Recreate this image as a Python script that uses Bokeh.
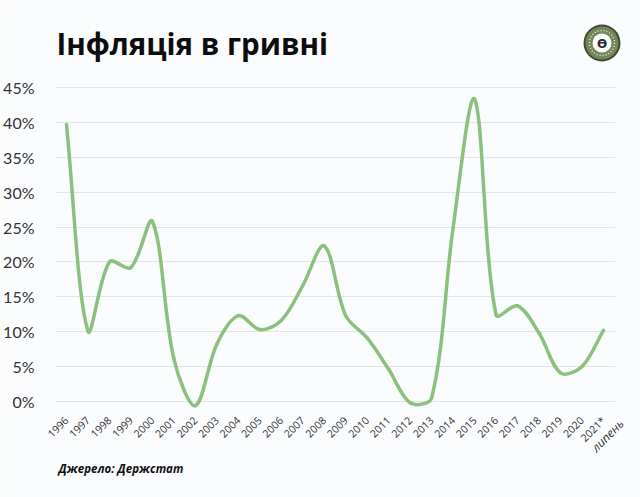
import numpy as np
from bokeh.plotting import figure
from bokeh.models import FixedTicker, Range1d
from bokeh.layouts import column
from bokeh.core.properties import value
from bokeh.embed import file_html
from bokeh.resources import INLINE

# ---- data ----
years = [1996, 1997, 1998, 1999, 2000, 2001, 2002, 2003, 2004, 2005, 2006, 2007, 2008,
         2009, 2010, 2011, 2012, 2013, 2014, 2015, 2016, 2017, 2018, 2019, 2020, 2021]
inflation = [39.7, 10.1, 20.0, 19.2, 25.8, 6.1, -0.6, 8.2, 12.3, 10.3, 11.6, 16.6, 22.3,
             12.3, 9.1, 4.6, -0.2, 0.5, 24.9, 43.3, 12.4, 13.7, 9.8, 4.1, 5.0, 10.2]
year_labels = [str(y) for y in years[:-1]] + ["2021*"]
y_ticks = [0, 5, 10, 15, 20, 25, 30, 35, 40, 45]
title_text = "Інфляція в гривні"
source_text = "Джерело: Держстат"
note_text = "липень"

BG = "#fbfcfe"
LINE = "#8cc07e"
W, H = 640, 497

FL, FT, FW, FH = 55, 80, 560, 330   # frame left/top/width/height in canvas px
X0, X1 = 1995.49, 2021.56
Y0, Y1 = -1.3, 46.0

p = figure(frame_width=FW, frame_height=FH, output_backend="svg", toolbar_location=None,
           x_range=Range1d(X0, X1), y_range=Range1d(Y0, Y1),
           min_border_left=FL, min_border_right=W - FL - FW, min_border_top=FT,
           min_border_bottom=H - FT - FH, frame_align=False,
           background_fill_color=BG, border_fill_color=BG, outline_line_color=None)

# smoothed line (spreadsheet-style smoothing, tangents scaled by on-screen segment lengths)
sx = FW / (X1 - X0)
sy = FH / (Y1 - Y0)
x = np.array(years, dtype=float)
y = np.array(inflation, dtype=float)
xp = np.concatenate([[x[0]], x, [x[-1]]])
yp = np.concatenate([[y[0]], y, [y[-1]]])
seg = np.hypot(np.diff(xp) * sx, np.diff(yp) * sy)
d01, d12, d23 = seg[:-2], seg[1:-1], seg[2:]
f1 = d12 / (d01 + d12) / 3
f2 = d12 / (d12 + d23) / 3
cx0 = xp[1:-2] + (xp[2:-1] - xp[:-3]) * f1
cy0 = yp[1:-2] + (yp[2:-1] - yp[:-3]) * f1
cx1 = xp[2:-1] - (xp[3:] - xp[1:-2]) * f2
cy1 = yp[2:-1] - (yp[3:] - yp[1:-2]) * f2
p.bezier(x0=x[:-1], y0=y[:-1], x1=x[1:], y1=y[1:], cx0=cx0, cy0=cy0, cx1=cx1, cy1=cy1,
         line_color=LINE, line_width=3.5, line_cap="round")

# axes
p.yaxis.ticker = FixedTicker(ticks=y_ticks)
p.yaxis.major_label_overrides = {t: f"{t}%" for t in y_ticks}
p.yaxis.major_label_text_font = "Lato"
p.yaxis.major_label_text_font_size = "16px"
p.yaxis.major_label_text_color = "#333333"
p.yaxis.major_label_standoff = 15
p.xaxis.ticker = FixedTicker(ticks=years)
p.xaxis.major_label_overrides = {yr: lab for yr, lab in zip(years, year_labels)}
p.xaxis.major_label_orientation = np.pi / 4
p.xaxis.major_label_text_font = "Open Sans"
p.xaxis.major_label_text_font_size = "10.5px"
p.xaxis.major_label_text_color = "#333333"
p.xaxis.major_label_standoff = 2
for ax in (p.xaxis, p.yaxis):
    ax.axis_line_color = None
    ax.major_tick_line_color = None
    ax.minor_tick_line_color = None
p.xgrid.grid_line_color = None
p.ygrid.grid_line_color = "#e3e4e6"
p.ygrid.grid_line_width = 1

# ---- transparent overlay (canvas pixel coordinates) for title, logo, source, note ----
o = figure(frame_width=W, frame_height=H, output_backend="svg", toolbar_location=None,
           x_range=Range1d(0, W), y_range=Range1d(H, 0),
           x_axis_type=None, y_axis_type=None, frame_align=False,
           min_border=0, min_border_left=0, min_border_right=0,
           min_border_top=0, min_border_bottom=0,
           background_fill_alpha=0, border_fill_alpha=0, outline_line_color=None,
           margin=(-H, 0, 0, 0))
o.xgrid.grid_line_color = None
o.ygrid.grid_line_color = None

o.text(x=[56], y=[43], text=[title_text], text_font=value("Open Sans"),
       text_font_style="bold", text_font_size="29.5px", text_color="#0d0d0d",
       text_baseline="alphabetic")
o.text(x=[58], y=[468], text=[source_text], text_font=value("Open Sans"),
       text_font_style="bold italic", text_font_size="11.5px", text_color="#111111",
       text_baseline="alphabetic")
o.text(x=[593], y=[449], text=[note_text], angle=np.pi / 4, text_font=value("Open Sans"),
       text_font_style="italic", text_font_size="12px", text_color="#333333",
       text_baseline="alphabetic")

# logo
o.scatter(x=[601.5], y=[42.5], size=37, marker="circle", fill_color="#3f4c30", line_color=None)
o.scatter(x=[601.5], y=[42.5], size=33, marker="circle", fill_color="#75865a", line_color=None)
o.scatter(x=[601.5], y=[42.5], size=25, marker="circle", fill_color=None,
          line_color="#f4f4ec", line_width=1.3, line_dash="1 2")
o.scatter(x=[601.5], y=[42.5], size=19, marker="circle", fill_color="#ffffff", line_color=None)
o.text(x=[601.5], y=[43], text=["Ө"], text_font=value("DejaVu Sans"), text_font_style="bold",
       text_font_size="12px", text_color="#2b2b2b", text_align="center",
       text_baseline="middle")

layout = column(p, o, spacing=0)
open("out.html", "w").write(file_html(layout, INLINE))
